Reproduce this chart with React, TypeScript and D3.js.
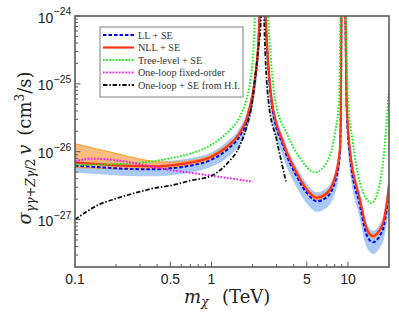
import React from "react";
import * as d3 from "d3";

// ---------- data ----------
// common mass grid (TeV) for LL / NLL curves and their bands
const seMass = [0.1, 0.15, 0.2, 0.3, 0.4, 0.5, 0.7, 1.0, 1.3, 1.6, 1.8, 2.0, 2.1, 2.2, 2.25, 2.3, 2.37, 2.43, 2.49, 2.76, 3.36, 4.21, 5.12, 5.9, 6.79, 7.8, 8.73, 8.89, 8.96, 9.27, 9.59, 9.78, 10.34, 12.25, 13.78, 15.32, 17.16, 18.14, 19.41, 20];

const nllValue = [6.9e-27, 6.55e-27, 6.3e-27, 6.12e-27, 6.1e-27, 6.3e-27, 6.9e-27, 8.44e-27, 1.19e-26, 1.84e-26, 2.96e-26, 6.9e-26, 1.36e-25, 3.75e-25, 1e-24, 3e-24, 1e-23, 3e-24, 1e-24, 5.82e-26, 1.34e-26, 4.86e-27, 2.61e-27, 2.09e-27, 2.33e-27, 3.47e-27, 1.07e-26, 5.8e-26, 1e-24, 1e-23, 1e-24, 5.8e-26, 1.07e-26, 1.97e-27, 7.13e-28, 5.68e-28, 7.13e-28, 9.04e-28, 1.97e-27, 3.27e-27];

const nllUpper = [1.31e-26, 1.08e-26, 9.44e-27, 7.81e-27, 7.13e-27, 7.01e-27, 7.37e-27, 8.95e-27, 1.26e-26, 1.95e-26, 3.14e-26, 7.31e-26, 1.44e-25, 3.98e-25, 1.06e-24, 3.18e-24, 1.06e-23, 3.18e-24, 1.06e-24, 6.17e-26, 1.42e-26, 5.15e-27, 2.77e-27, 2.22e-27, 2.47e-27, 3.68e-27, 1.13e-26, 6.15e-26, 1.06e-24, 1.06e-23, 1.06e-24, 6.15e-26, 1.13e-26, 2.09e-27, 7.56e-28, 6.02e-28, 7.56e-28, 9.58e-28, 2.09e-27, 3.47e-27];

const nllLower = [5.82e-27, 5.72e-27, 5.62e-27, 5.53e-27, 5.62e-27, 5.82e-27, 6.44e-27, 7.93e-27, 1.12e-26, 1.73e-26, 2.78e-26, 6.49e-26, 1.28e-25, 3.53e-25, 9.4e-25, 2.82e-24, 9.4e-24, 2.82e-24, 9.4e-25, 5.47e-26, 1.26e-26, 4.57e-27, 2.45e-27, 1.96e-27, 2.19e-27, 3.26e-27, 1.01e-26, 5.45e-26, 9.4e-25, 9.4e-24, 9.4e-25, 5.45e-26, 1.01e-26, 1.85e-27, 6.7e-28, 5.34e-28, 6.7e-28, 8.5e-28, 1.85e-27, 3.07e-27];

const llValue = [6.23e-27, 5.91e-27, 5.69e-27, 5.53e-27, 5.51e-27, 5.69e-27, 6.23e-27, 7.62e-27, 1.07e-26, 1.66e-26, 2.67e-26, 6.23e-26, 1.23e-25, 3.39e-25, 9e-25, 2.7e-24, 9e-24, 2.7e-24, 9e-25, 5.2e-26, 1.2e-26, 4.33e-27, 2.33e-27, 1.86e-27, 2.05e-27, 3.0e-27, 9.2e-27, 5.0e-26, 8.6e-25, 8.5e-24, 8.4e-25, 4.8e-26, 8.8e-27, 1.61e-27, 5.82e-28, 4.63e-28, 5.82e-28, 7.4e-28, 1.61e-27, 2.67e-27];

const llUpper = [7.91e-27, 7.51e-27, 7.23e-27, 7.02e-27, 7.0e-27, 7.23e-27, 7.91e-27, 9.68e-27, 1.39e-26, 2.16e-26, 3.47e-26, 8.1e-26, 1.6e-25, 4.41e-25, 1.17e-24, 3.5e-24, 1.2e-23, 3.5e-24, 1.17e-24, 6.97e-26, 1.61e-26, 5.8e-27, 3.12e-27, 2.49e-27, 2.75e-27, 4.02e-27, 1.23e-26, 6.75e-26, 1.16e-24, 1.15e-23, 1.13e-24, 6.48e-26, 1.28e-26, 2.33e-27, 8.44e-28, 6.71e-28, 8.44e-28, 1.07e-27, 2.33e-27, 3.87e-27];

const llLower = [4.98e-27, 4.73e-27, 4.55e-27, 4.42e-27, 4.41e-27, 4.55e-27, 4.98e-27, 6.1e-27, 8.24e-27, 1.28e-26, 2.06e-26, 4.8e-26, 9.2e-26, 2.54e-25, 6.75e-25, 2.0e-24, 6.8e-24, 2.0e-24, 6.75e-25, 3.69e-26, 8.52e-27, 3.07e-27, 1.65e-27, 1.32e-27, 1.46e-27, 2.13e-27, 6.53e-27, 3.6e-26, 6.2e-25, 6.1e-24, 6.0e-25, 3.46e-26, 5.98e-27, 1.09e-27, 3.96e-28, 3.15e-28, 3.96e-28, 5.03e-28, 1.09e-27, 1.82e-27];

const treeMass = [0.1, 0.15, 0.2, 0.3, 0.4, 0.5, 0.7, 1.0, 1.3, 1.6, 1.8, 1.93, 2.03, 2.08, 2.22, 2.36, 2.48, 2.59, 2.92, 3.56, 4.45, 5.73, 7.17, 8.03, 8.63, 8.81, 9.27, 9.67, 10.0, 10.8, 12.25, 14.9, 17.16, 18.67, 19.73, 20];
const treeValue = [6.44e-27, 6.44e-27, 6.55e-27, 6.89e-27, 7.37e-27, 8.03e-27, 9.35e-27, 1.27e-26, 1.9e-26, 3.16e-26, 5.82e-26, 1.15e-25, 3.16e-25, 1e-24, 4e-24, 1e-23, 4e-24, 1e-24, 5.82e-26, 1.88e-26, 8.07e-27, 4.96e-27, 7.63e-27, 1.88e-26, 5.82e-26, 1e-24, 1e-23, 1e-24, 5.82e-26, 1.5e-26, 3.47e-27, 1.76e-27, 3.47e-27, 1.34e-26, 5.82e-26, 8.16e-26];

const fixedMass = [0.1, 0.13, 0.17, 0.2, 0.3, 0.4, 0.5, 0.7, 1.0, 1.5, 2.0];
const fixedValue = [7.25e-27, 7.89e-27, 7.76e-27, 7.5e-27, 6.55e-27, 5.82e-27, 5.35e-27, 4.91e-27, 4.44e-27, 3.94e-27, 3.62e-27];

const hiMass = [0.1, 0.15, 0.2, 0.3, 0.4, 0.5, 0.7, 1.0, 1.3, 1.6, 1.8, 2.0, 2.1, 2.2, 2.31, 2.37, 2.43, 2.61, 3.0, 3.51];
const hiValue = [1e-27, 1.66e-27, 2.04e-27, 2.58e-27, 2.96e-27, 3.16e-27, 3.75e-27, 4.44e-27, 6.67e-27, 1.19e-26, 2.25e-26, 5.82e-26, 1.36e-25, 3.16e-25, 1e-24, 1e-23, 1e-24, 5.82e-26, 1.5e-26, 3.66e-27];

const xTickLabels = [0.1, 0.5, 1, 5, 10];
const yTickExponents = [-24, -25, -26, -27];

const legendLabels = ["LL + SE", "NLL + SE", "Tree-level + SE", "One-loop fixed-order", "One-loop + SE from H.I."];

// ---------- styles ----------
const STYLES = [
  { stroke: "#0000ff", width: 2, dash: "3.5,2" },
  { stroke: "#ff3414", width: 2.2, dash: "" },
  { stroke: "#14f014", width: 2, dash: "1.6,1.6" },
  { stroke: "#ff10ff", width: 2, dash: "1.6,1.6" },
  { stroke: "#111111", width: 1.8, dash: "4.5,1.8,1.5,1.8" },
];

const L = 75, R = 389, T = 16, B = 267;

export default function App() {
  const x = d3.scaleLog().domain([0.1, 20]).range([L, R]);
  const y = d3.scaleLog().domain([2e-28, 1e-24]).range([B, T]);

  const line = (ms: number[], vs: number[]) =>
    d3.line<number>().x((_, i) => x(ms[i])).y((v) => y(v)).curve(d3.curveMonotoneX)(vs) || "";
  const area = (ms: number[], lo: number[], hi: number[]) =>
    d3.area<number>().x((_, i) => x(ms[i])).y0((_, i) => y(lo[i])).y1((v) => y(v)).curve(d3.curveMonotoneX)(hi) || "";

  const series = [
    line(seMass, llValue),
    line(seMass, nllValue),
    line(treeMass, treeValue),
    line(fixedMass, fixedValue),
    line(hiMass, hiValue),
  ];

  const yMinor: number[] = [];
  for (let e = -28; e <= -25; e++) {
    for (let k = 2; k <= 9; k++) {
      const v = k * Math.pow(10, e);
      if (v > 2e-28 && v < 1e-24) yMinor.push(v);
    }
  }
  const yMajor = yTickExponents.map((e) => Math.pow(10, e));
  const xMinor: number[] = [];
  for (let e = -1; e <= 1; e++) {
    for (let k = 2; k <= 9; k++) {
      const v = k * Math.pow(10, e);
      if (k !== 5 && v < 20) xMinor.push(v);
    }
  }
  const xMajor = [0.5, 1, 5, 10];

  const axisColor = "#5a5a5a";
  const labelFont = "'Liberation Sans', Arial, Helvetica, sans-serif";
  const serif = "'DejaVu Serif', serif";

  return (
    <svg width={399} height={318} style={{ position: "absolute", left: 0, top: 0, background: "#fff" }}>
      <defs>
        <clipPath id="plotClip">
          <rect x={L} y={T} width={R - L} height={B - T} />
        </clipPath>
      </defs>
      <rect x={0} y={0} width={399} height={318} fill="#fff" />
      <g clipPath="url(#plotClip)">
        <path d={area(seMass, llLower, llUpper)} fill="#a9caf8" stroke="#93baf2" strokeWidth={0.6} />
        <path d={area(seMass, nllLower, nllUpper)} fill="#fbb16a" fillOpacity={0.85} stroke="#f7941d" strokeWidth={0.9} />
        {series.map((d, i) => (
          <path key={i} d={d} fill="none" stroke={STYLES[i].stroke} strokeWidth={STYLES[i].width}
            strokeDasharray={STYLES[i].dash || undefined} />
        ))}
      </g>

      {/* ticks */}
      <g stroke={axisColor} strokeWidth={1}>
        {yMajor.map((v) => <line key={"ym" + v} x1={L} x2={L + 5.5} y1={y(v)} y2={y(v)} />)}
        {yMinor.map((v) => <line key={"yn" + v} x1={L} x2={L + 3} y1={y(v)} y2={y(v)} />)}
        {xMajor.map((v) => <line key={"xm" + v} x1={x(v)} x2={x(v)} y1={B} y2={B - 5.5} />)}
        {xMinor.map((v) => <line key={"xn" + v} x1={x(v)} x2={x(v)} y1={B} y2={B - 3} />)}
      </g>
      <rect x={L} y={T} width={R - L} height={B - T} fill="none" stroke={axisColor} strokeWidth={1.6} />

      {/* y tick labels */}
      {yTickExponents.map((e) => {
        const yy = y(Math.pow(10, e));
        return (
          <g key={"yl" + e} fill="#222" fontFamily={labelFont}>
            <text x={53.3} y={yy + 6.5} fontSize={14} textAnchor="end">10</text>
            <text x={53.6} y={yy - 1} fontSize={10.5} textAnchor="start">{"\u2212" + Math.abs(e)}</text>
          </g>
        );
      })}
      {/* x tick labels */}
      {xTickLabels.map((v) => (
        <text key={"xl" + v} x={x(v)} y={283.5} fontSize={14} textAnchor="middle" fill="#222" fontFamily={labelFont}>
          {String(v)}
        </text>
      ))}

      {/* axis titles */}
      <text x={184} y={302.5} fontFamily={serif} fontSize={18} fill="#222">
        <tspan fontStyle="italic">m</tspan>
        <tspan fontStyle="italic" fontSize={12.5} dy={3.5}>χ</tspan>
      </text>
      <text x={222} y={302.5} fontFamily={serif} fontSize={18} fill="#222">(TeV)</text>
      <text transform="translate(31,148) rotate(-90)" textAnchor="middle" fontFamily={serif} fontSize={18} fill="#222">
        <tspan fontStyle="italic">σ</tspan>
        <tspan fontSize={12.5} dy={4}><tspan fontStyle="italic">γγ</tspan>+<tspan fontStyle="italic">Zγ</tspan>/2</tspan>
        <tspan dy={-4} fontStyle="italic">{"\u2009v"}</tspan>
        <tspan>{"\u2002(cm"}</tspan>
        <tspan fontSize={12} dy={-7}>3</tspan>
        <tspan dy={7}>/s)</tspan>
      </text>

      {/* legend */}
      <rect x={100} y={27} width={143} height={70} fill="#fff" stroke="#8a8a8a" strokeWidth={1.1} />
      {legendLabels.map((lab, i) => {
        const yy = 35 + i * 12.5;
        return (
          <g key={lab}>
            <line x1={103} x2={134} y1={yy} y2={yy} stroke={STYLES[i].stroke} strokeWidth={STYLES[i].width}
              strokeDasharray={STYLES[i].dash || undefined} />
            <text x={138} y={yy + 3.5} fontSize={10.2} fontFamily="'Liberation Serif', 'Times New Roman', serif" fill="#333">{lab}</text>
          </g>
        );
      })}
    </svg>
  );
}
